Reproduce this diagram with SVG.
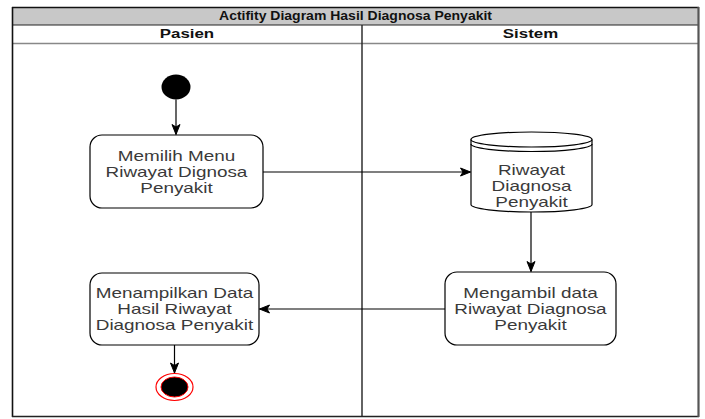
<svg xmlns="http://www.w3.org/2000/svg" width="705" height="419" viewBox="0 0 705 419">
<style>
.t{font-family:"Liberation Sans",Arial,sans-serif;font-size:14px;fill:#3a3a3a;text-anchor:middle}
.h{font-family:"Liberation Sans",Arial,sans-serif;font-size:12.5px;font-weight:bold;fill:#111;text-anchor:middle}
.box{fill:#fff;stroke:#000;stroke-width:1.2}
.ln{fill:none;stroke:#000;stroke-width:1.2}
</style>
<defs>
<marker id="arr" markerUnits="userSpaceOnUse" markerWidth="12" markerHeight="12" viewBox="0 0 12 12" refX="11" refY="6" orient="auto">
<path d="M1,2 L11,6 L1,10 L3.5,6 z" fill="#000" stroke="#000" stroke-width="1"/>
</marker>
</defs>
<g id="pool">
<rect x="12" y="7.5" width="687" height="17.5" fill="#c8c8c8"/>
<rect x="12" y="25" width="687" height="18.5" fill="#fff"/>
<rect x="12" y="43.5" width="687" height="373" fill="#fff"/>
<line x1="12" y1="43.5" x2="699" y2="43.5" stroke="#888" stroke-width="1.6"/>
<line x1="12" y1="25" x2="699" y2="25" stroke="#222" stroke-width="1.2"/>
<line x1="362" y1="25" x2="362" y2="416.5" stroke="#222" stroke-width="1.4"/>
<line x1="12" y1="7.5" x2="699" y2="7.5" stroke="#111" stroke-width="1.4"/>
<line x1="12.5" y1="7" x2="12.5" y2="417" stroke="#111" stroke-width="1.6"/>
<line x1="12" y1="416.5" x2="699" y2="416.5" stroke="#222" stroke-width="1.4"/>
<line x1="698.5" y1="7" x2="698.5" y2="417" stroke="#555" stroke-width="2.2"/>
<text class="h" transform="translate(355.5,0) scale(1.12,1)" x="0" y="20.5" font-size="12.5">Actifity Diagram Hasil Diagnosa Penyakit</text>
<text class="h" transform="translate(187,0) scale(1.35,1)" x="0" y="38.5">Pasien</text>
<text class="h" transform="translate(530.5,0) scale(1.35,1)" x="0" y="38.5">Sistem</text>
</g>
<g id="start">
<ellipse cx="176" cy="87" rx="14.5" ry="12.5" fill="#000"/>
</g>
<g id="memilih">
<rect class="box" x="90" y="135" width="173" height="73" rx="12"/>
<text class="t" transform="translate(176.5,0) scale(1.35,1)"><tspan x="0" y="161">Memilih Menu</tspan><tspan x="0" y="177">Riwayat Dignosa</tspan><tspan x="0" y="193">Penyakit</tspan></text>
</g>
<g id="riwayat-db">
<path class="box" d="M471,139.5 A60.5,7.5 0 0 1 592,139.5 L592,204.5 A60.5,7.5 0 0 1 471,204.5 Z"/>
<path class="ln" d="M471,139.5 A60.5,7.5 0 0 0 592,139.5"/>
<path class="ln" d="M471,144 A60.5,7.5 0 0 0 592,144"/>
<text class="t" transform="translate(531.5,0) scale(1.35,1)"><tspan x="0" y="175">Riwayat</tspan><tspan x="0" y="191.5">Diagnosa</tspan><tspan x="0" y="207.5">Penyakit</tspan></text>
</g>
<g id="mengambil">
<rect class="box" x="445" y="272" width="171" height="73" rx="12"/>
<text class="t" transform="translate(530.5,0) scale(1.35,1)"><tspan x="0" y="298">Mengambil data</tspan><tspan x="0" y="314">Riwayat Diagnosa</tspan><tspan x="0" y="330">Penyakit</tspan></text>
</g>
<g id="menampilkan">
<rect class="box" x="90" y="273" width="169" height="72" rx="12"/>
<text class="t" transform="translate(174.5,0) scale(1.35,1)"><tspan x="0" y="298">Menampilkan Data</tspan><tspan x="0" y="314">Hasil Riwayat</tspan><tspan x="0" y="330">Diagnosa Penyakit</tspan></text>
</g>
<g id="end">
<ellipse cx="174.5" cy="387" rx="18.5" ry="13.5" fill="#fff" stroke="#ff0000" stroke-width="1.2"/>
<ellipse cx="174.5" cy="387" rx="13.5" ry="10" fill="#000" stroke="#ff0000" stroke-width="1"/>
</g>
<g id="connectors">
<line class="ln" x1="176" y1="99.5" x2="176" y2="134.5" marker-end="url(#arr)"/>
<line class="ln" x1="263" y1="172" x2="470.5" y2="172" marker-end="url(#arr)"/>
<line class="ln" x1="531" y1="212" x2="531" y2="271.5" marker-end="url(#arr)"/>
<line class="ln" x1="445" y1="309" x2="259.5" y2="309" marker-end="url(#arr)"/>
<line class="ln" x1="174.5" y1="345" x2="174.5" y2="373" marker-end="url(#arr)"/>
</g>
</svg>
